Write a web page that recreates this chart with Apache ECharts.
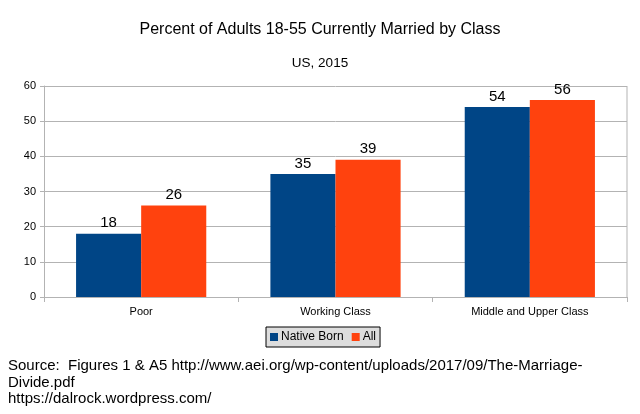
<!DOCTYPE html>
<html><head><meta charset="utf-8">
<script src="https://cdn.jsdelivr.net/npm/echarts@6/dist/echarts.min.js"></script>
<style>html,body{margin:0;padding:0;background:#fff}#c{width:640px;height:414px}</style>
</head><body><div id="c"></div>
<script>
const categories = ['Poor', 'Working Class', 'Middle and Upper Class'];
const nativeBorn = [18, 35, 54];
const allAdults = [26, 39, 56];
const seriesNames = ['Native Born', 'All'];
const titleText = 'Percent of Adults 18-55 Currently Married by Class';
const subtitleText = 'US, 2015';
const sourceLines = ['Source:  Figures 1 & A5 http://www.aei.org/wp-content/uploads/2017/09/The-Marriage-', 'Divide.pdf', 'https://dalrock.wordpress.com/'];

const chart = echarts.init(document.getElementById('c'), null, {renderer: 'canvas'});
const F = 'Liberation Sans, Arial, sans-serif';
chart.setOption({
  animation: false,
  textStyle: {fontFamily: F},
  title: [
    {text: titleText, left: 'center', top: 17, textStyle: {fontFamily: F, fontSize: 16, fontWeight: 'normal', color: '#000'}},
    {text: subtitleText, left: 'center', top: 51, textStyle: {fontFamily: F, fontSize: 13.5, fontWeight: 'normal', color: '#000'}}
  ],
  grid: {left: 44, right: 13, top: 86, bottom: 117, containLabel: false, show: false},
  legend: {
    data: seriesNames, top: 327, left: 266, itemWidth: 8, itemHeight: 8, itemGap: 8,
    icon: 'rect', borderColor: '#000', borderWidth: 1, backgroundColor: '#ddd', padding: [4, 4, 4, 4],
    textStyle: {fontFamily: F, fontSize: 12, color: '#000', padding: [0, 0, 0, -2]}
  },
  xAxis: {
    type: 'category', data: categories,
    axisLine: {lineStyle: {color: '#b3b3b3'}},
    axisTick: {show: true, length: 5, lineStyle: {color: '#b3b3b3'}},
    axisLabel: {fontFamily: F, fontSize: 11, color: '#000', margin: 9},
    splitLine: {show: false}
  },
  yAxis: {
    type: 'value', min: 0, max: 60, interval: 10,
    axisLine: {show: true, lineStyle: {color: '#b3b3b3'}},
    axisTick: {show: true, length: 4, lineStyle: {color: '#b3b3b3'}},
    axisLabel: {fontFamily: F, fontSize: 11, color: '#000', margin: 8},
    splitLine: {lineStyle: {color: '#b3b3b3'}}
  },
  series: [
    {name: seriesNames[0], type: 'bar', data: nativeBorn, barGap: '0%', barCategoryGap: '33%',
     itemStyle: {color: '#004586'},
     label: {show: true, position: 'top', distance: 3, fontFamily: F, fontSize: 15, color: '#000'}},
    {name: seriesNames[1], type: 'bar', data: allAdults, barGap: '0%', barCategoryGap: '33%',
     itemStyle: {color: '#ff420e'},
     label: {show: true, position: 'top', distance: 3, fontFamily: F, fontSize: 15, color: '#000'}}
  ],
  graphic: [
    {type: 'line', shape: {x1: 627, y1: 86, x2: 627, y2: 297}, style: {stroke: '#b3b3b3', lineWidth: 1}},
    {type: 'text', left: 8, top: 358, style: {text: sourceLines.join('\n'), fontFamily: F, fontSize: 15, lineHeight: 16.5, fill: '#000'}}
  ]
});
</script></body></html>
